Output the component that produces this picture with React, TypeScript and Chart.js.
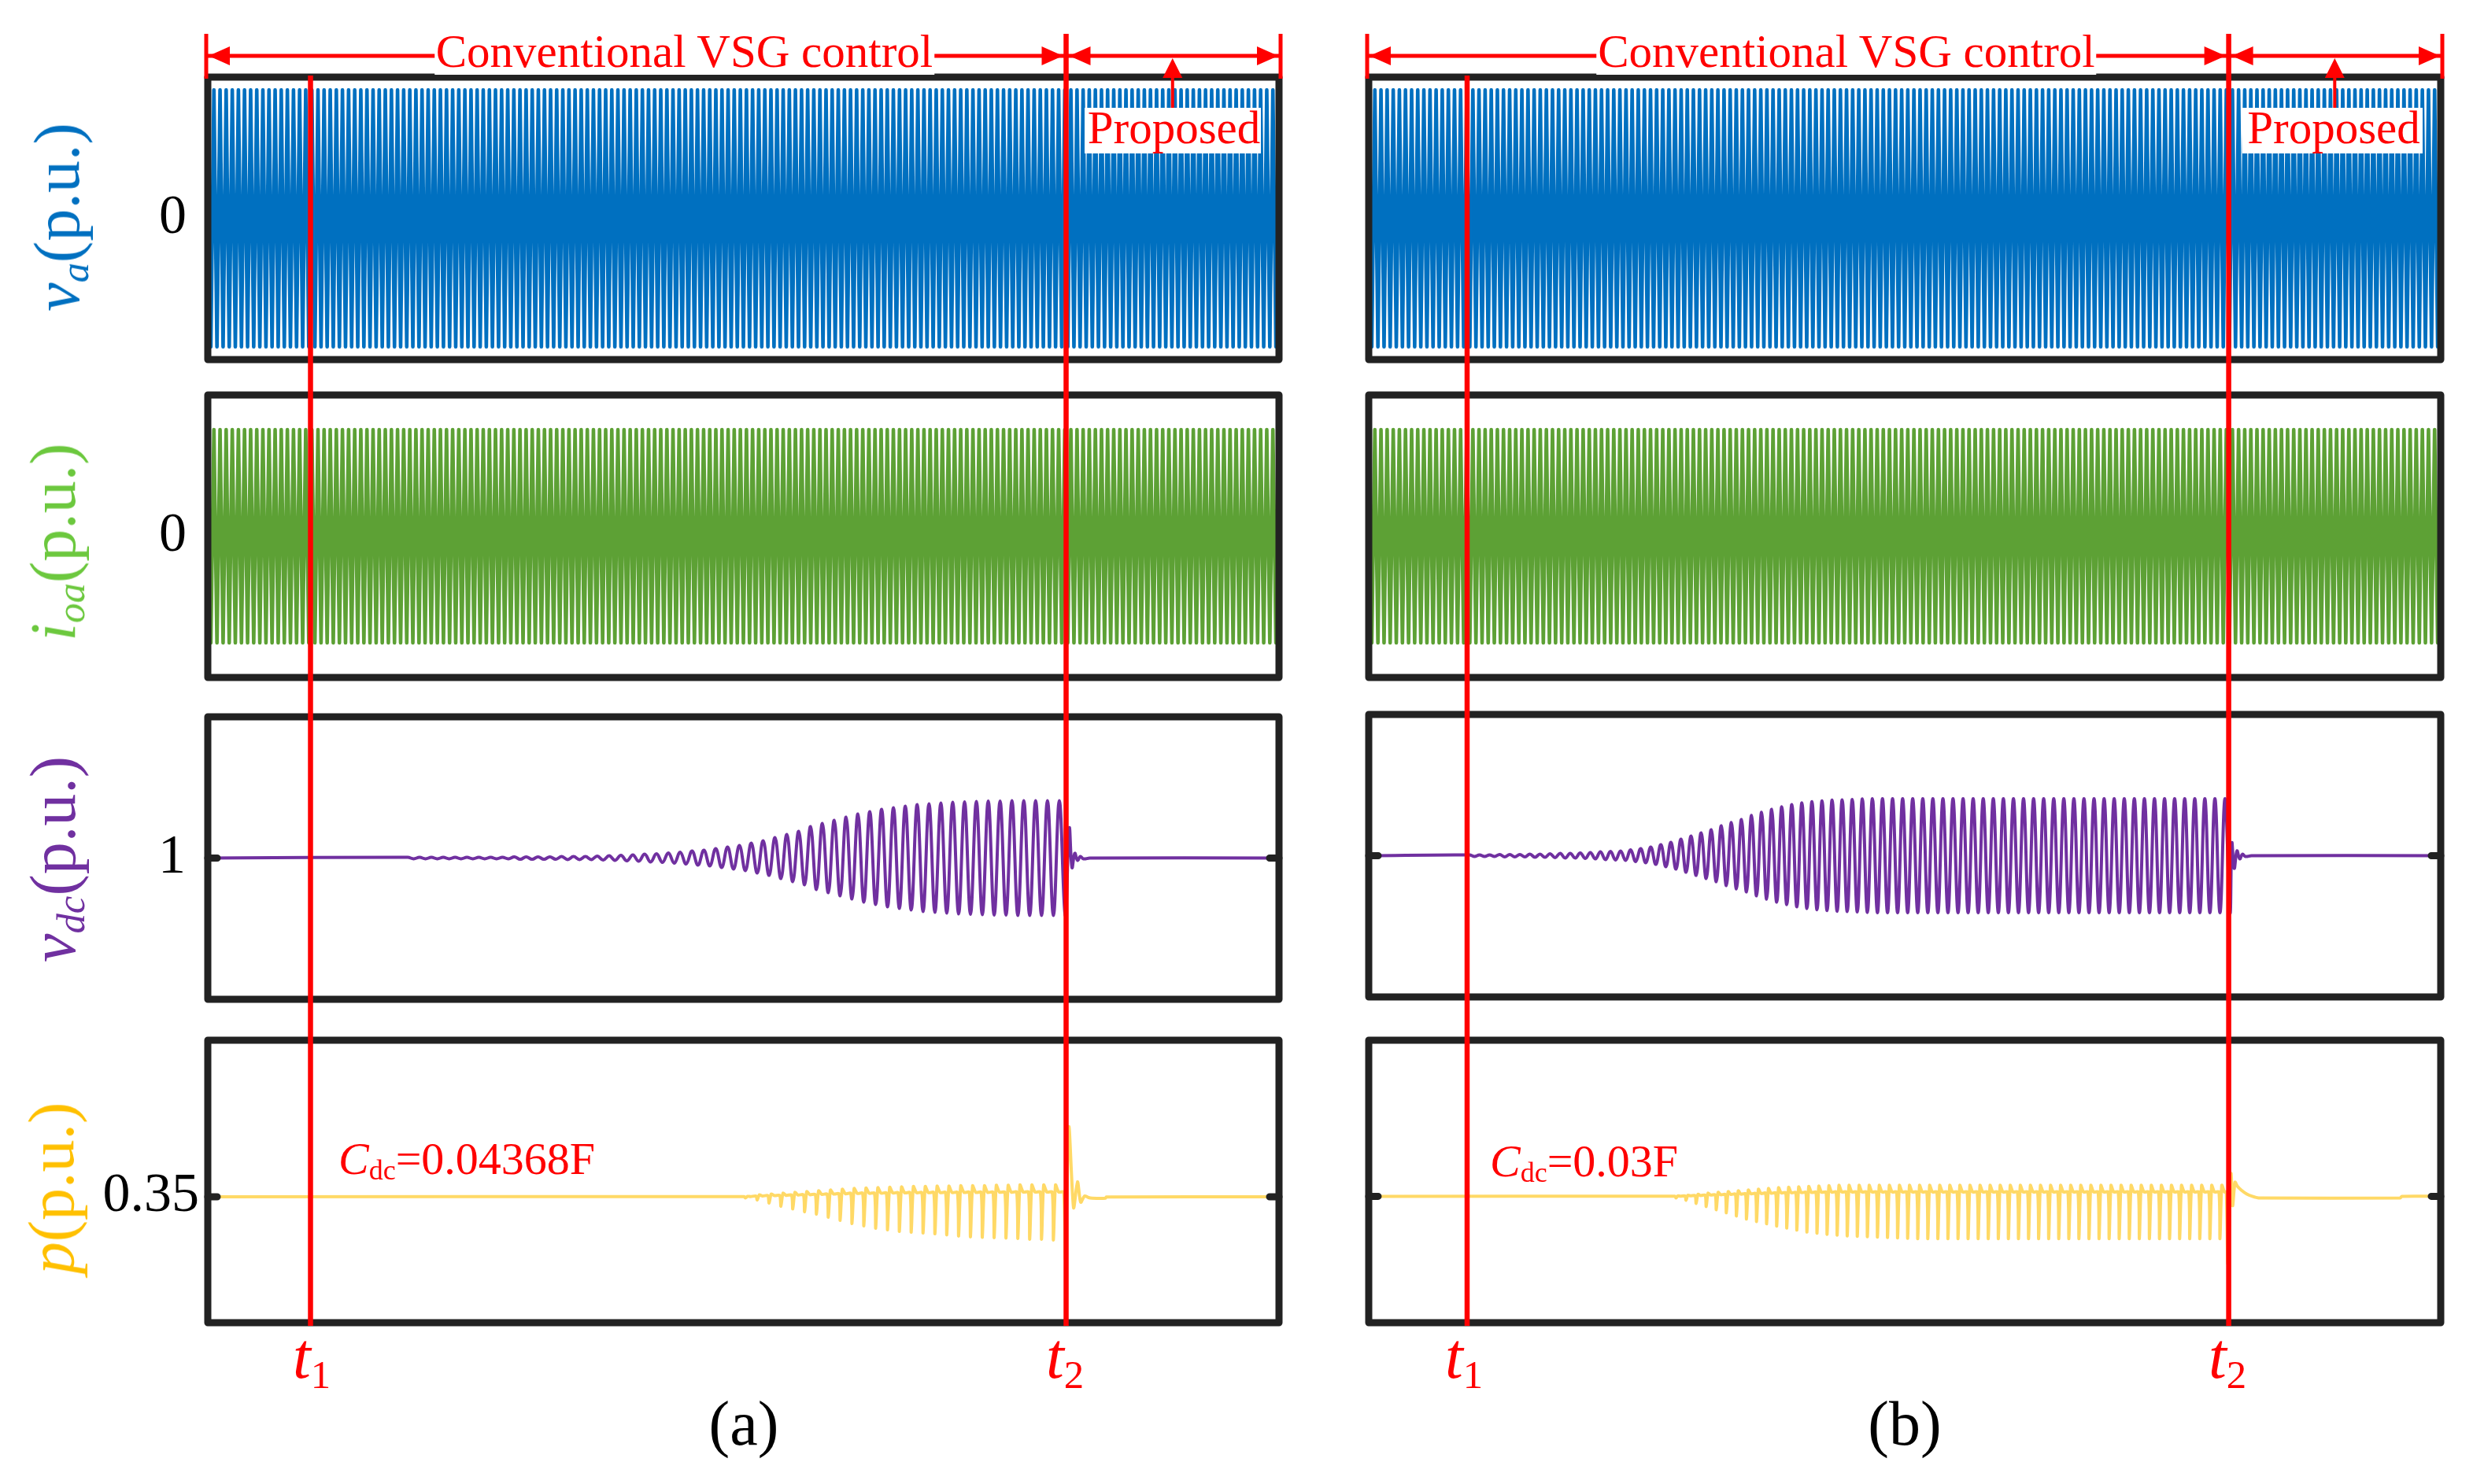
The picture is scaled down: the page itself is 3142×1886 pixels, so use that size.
import React, { useEffect, useRef } from "react";
import { Chart, registerables } from "chart.js";
Chart.register(...registerables);

// ---------------- data ----------------
const TIME_RANGE = [0, 3.5]; // s, shown span of every panel
const T_MARKS_A = [0.3356, 2.8044]; // t1, t2 in (a)
const T_MARKS_B = [0.3212, 2.8077]; // t1, t2 in (b)

const AC_HALF_PERIOD = 0.01; // s (50 Hz)
const VA_PEAK = 1.0;
const IOA_PEAK = 0.83;
const VDC_REF = 1;
const P_REF = 0.35;

const VA_AXIS = [-1.1, 1.1];
const IOA_AXIS = [-1.1, 1.1];
const VDC_AXIS_A = [0.8, 1.2];
const VDC_AXIS_B = [0.8, 1.2];
const P_AXIS_A = [0.1717, 0.5717];
const P_AXIS_B = [0.1711, 0.5711];

const TICK_VALUES = [0, 0, VDC_REF, P_REF];
const TICK_LABELS = ["0", "0", "1", "0.35"];

// oscillation (low-frequency) grid
const OSC_A_START = 0.6532;
const OSC_A_PERIOD = 0.03871;
const OSC_B_START = 0.3289;
const OSC_B_PERIOD = 0.03289;

// vdc peak deviation per oscillation cycle (p.u.)
const VDC_A_AMP = [
  0.0011, 0.0011, 0.0011, 0.0011, 0.0011, 0.0011, 0.0011, 0.0011, 0.0011,
  0.0017, 0.0017, 0.0017, 0.0017,
  0.0022, 0.0022, 0.0022,
  0.0028, 0.0033, 0.0039, 0.0045, 0.0056, 0.0061, 0.0072, 0.0084, 0.0100, 0.0111,
  0.0134, 0.0156, 0.0178, 0.0212, 0.0245, 0.0290, 0.0334, 0.0379, 0.0446, 0.0491,
  0.0535, 0.0580, 0.0624, 0.0658, 0.0691, 0.0713, 0.0736, 0.0758, 0.0769, 0.0780,
  0.0792, 0.0797, 0.0803, 0.0808, 0.0808, 0.0814, 0.0814, 0.0814, 0.0814, 0.0814,
];
const VDC_A_POST_T = [0.0103, 0.0193, 0.0283, 0.0373, 0.0463, 0.0566, 0.0772];
const VDC_A_POST_V = [0.0424, -0.0134, 0.0067, -0.0033, 0.0022, -0.0011, 0];

const VDC_B_AMP = [
  0.0011, 0.0011, 0.0011, 0.0017, 0.0017, 0.0017, 0.0022, 0.0022, 0.0028, 0.0033,
  0.0033, 0.0039, 0.0045, 0.0056, 0.0061, 0.0067, 0.0084, 0.0100, 0.0123, 0.0156,
  0.0190, 0.0234, 0.0279, 0.0324, 0.0368, 0.0424, 0.0469, 0.0513, 0.0569, 0.0614,
  0.0658, 0.0692, 0.0725, 0.0748, 0.0765, 0.0776, 0.0787, 0.0792, 0.0798, 0.0804,
  0.0807, 0.0807, 0.0807, 0.0807, 0.0807, 0.0807, 0.0807, 0.0807, 0.0807,
  0.0807, 0.0807, 0.0807, 0.0807, 0.0807, 0.0807, 0.0807, 0.0807, 0.0807,
  0.0807, 0.0807, 0.0807, 0.0807, 0.0807, 0.0807, 0.0807, 0.0807, 0.0807,
  0.0807, 0.0807, 0.0807, 0.0807, 0.0807, 0.0807, 0.0807, 0.0807, 0.0807,
];
const VDC_B_POST_T = [0.0103, 0.018, 0.027, 0.036, 0.045, 0.054, 0.0745];
const VDC_B_POST_V = [0.0179, -0.0179, 0.0067, -0.0045, 0.0022, -0.0011, 0];

// p: first oscillating cycle index, downward spike depth and upward bump per cycle
const P_A_FIRST_CYCLE = 28;
const P_A_SPIKE = [
  0.0017, 0.0045, 0.0089, 0.0134, 0.0173, 0.0212, 0.0245, 0.0290, 0.0334, 0.0379,
  0.0412, 0.0446, 0.0468, 0.0490, 0.0501, 0.0513, 0.0524, 0.0540, 0.0557, 0.0568,
  0.0574, 0.0579, 0.0585, 0.0591, 0.0602, 0.0602, 0.0613,
];
const P_A_BUMP = [
  0.0006, 0.0028, 0.0039, 0.0050, 0.0061, 0.0072, 0.0084, 0.0095, 0.0106, 0.0117,
  0.0123, 0.0128, 0.0134, 0.0139, 0.0145, 0.0145, 0.0150, 0.0150, 0.0156, 0.0156,
  0.0156, 0.0162, 0.0162, 0.0167, 0.0167, 0.0167, 0.0167,
];
const P_A_POST_T = [-0.0077, -0.0026, 0.009, 0.0244, 0.0373, 0.0476, 0.0604, 0.0733, 0.0849, 0.1286, 0.1312];
const P_A_POST_V = [0.0067, -0.088, 0.0992, -0.0156, 0.0212, -0.0078, 0.0011, -0.0011, -0.0019, -0.0019, -0.0003];

const P_B_FIRST_CYCLE = 20;
const P_B_SPIKE = [
  0.0022, 0.0056, 0.0100, 0.0144, 0.0189, 0.0233, 0.0278, 0.0322, 0.0356, 0.0389,
  0.0422, 0.0450, 0.0478, 0.0506, 0.0522, 0.0539, 0.0550, 0.0561, 0.0567, 0.0572,
  0.0578, 0.0583, 0.0589, 0.0594,
  0.0600, 0.0600, 0.0600, 0.0600, 0.0600, 0.0600, 0.0600, 0.0600, 0.0600, 0.0600,
  0.0600, 0.0600, 0.0600, 0.0600, 0.0600, 0.0600, 0.0600, 0.0600, 0.0600, 0.0600,
  0.0600, 0.0600, 0.0600, 0.0600, 0.0600, 0.0600, 0.0600, 0.0600, 0.0600, 0.0600,
  0.0600,
];
const P_B_BUMP = [
  0.0006, 0.0017, 0.0028, 0.0044, 0.0056, 0.0067, 0.0078, 0.0089, 0.0100, 0.0111,
  0.0122, 0.0128, 0.0133, 0.0139, 0.0144, 0.0150,
  0.0156, 0.0156, 0.0156, 0.0156, 0.0156, 0.0156, 0.0156, 0.0156, 0.0156, 0.0156,
  0.0156, 0.0156, 0.0156, 0.0156, 0.0156, 0.0156, 0.0156, 0.0156, 0.0156, 0.0156,
  0.0156, 0.0156, 0.0156, 0.0156, 0.0156, 0.0156, 0.0156, 0.0156, 0.0156, 0.0156,
  0.0156, 0.0156, 0.0156, 0.0156, 0.0156, 0.0156, 0.0156, 0.0156, 0.0156,
];
const P_B_POST_T = [-0.0077, -0.0026, 0.0077, 0.0128, 0.0206, 0.0283, 0.0411, 0.0591, 0.0771, 0.0977, 0.5602, 0.5654];
const P_B_POST_V = [0.0062, -0.0956, 0.0322, -0.0133, 0.02, 0.0144, 0.0089, 0.0033, 0, -0.0022, -0.0022, 0];

// ---------------- styles / layout ----------------
const SERIF = '"Liberation Serif", "Times New Roman", Times, serif';
const RED = "#FF0000";
const FRAME = "#222222";
const C_VA = "#0070C0";
const C_IOA = "#5DA135";
const C_IOA_LABEL = "#6CC83E";
const C_VDC = "#7030A0";
const C_P = "#FFD966";
const C_P_LABEL = "#FFC000";

const COL_A = { left: 264, right: 1625 };
const COL_B = { left: 1739, right: 3101 };
const ROWS_A = [98, 502, 911, 1322];
const ROWS_B = [98, 502, 908, 1322];
const PANEL_H = 359;
const TICK_PAD = [27, 27, 28, 11];
const AXIS_W = 240;
const PAD = 8;

type Pt = { x: number; y: number };

function acSeries(peak: number): Pt[] {
  const pts: Pt[] = [];
  const n = Math.round((TIME_RANGE[1] - TIME_RANGE[0]) / AC_HALF_PERIOD);
  for (let k = 0; k <= n; k++) pts.push({ x: TIME_RANGE[0] + k * AC_HALF_PERIOD, y: k % 2 === 0 ? peak : -peak });
  return pts;
}

function vdcSeries(start: number, period: number, amps: number[], t2: number, postT: number[], postV: number[]): Pt[] {
  const pts: Pt[] = [{ x: TIME_RANGE[0], y: VDC_REF }];
  amps.forEach((a, k) => {
    const t = start + k * period;
    pts.push({ x: t, y: VDC_REF + a });
    pts.push({ x: t + period / 2, y: VDC_REF - a });
  });
  postT.forEach((dt, i) => pts.push({ x: t2 + dt, y: VDC_REF + postV[i] }));
  pts.push({ x: TIME_RANGE[1], y: VDC_REF });
  return pts;
}

function pSeries(start: number, period: number, first: number, spikes: number[], bumps: number[], t2: number, postT: number[], postV: number[]): Pt[] {
  const pts: Pt[] = [{ x: TIME_RANGE[0], y: P_REF }];
  spikes.forEach((s, i) => {
    const t = start + (first + i) * period;
    const b = bumps[i];
    pts.push({ x: t + 0.4 * period, y: P_REF + 0.4 * b });
    pts.push({ x: t + 0.5 * period, y: P_REF - s });
    pts.push({ x: t + 0.68 * period, y: P_REF + b });
    pts.push({ x: t + 0.95 * period, y: P_REF + 0.4 * b });
  });
  postT.forEach((dt, i) => pts.push({ x: t2 + dt, y: P_REF + postV[i] }));
  pts.push({ x: TIME_RANGE[1], y: P_REF });
  return pts;
}

type PanelSpec = {
  left: number; top: number; width: number; height: number;
  color: string; lineWidth: number; tension: number;
  points: Pt[]; axis: number[];
  tickValue: number; tickLabel?: string; tickPad?: number; frameTick: boolean;
};

function buildPanels(): PanelSpec[] {
  const out: PanelSpec[] = [];
  const cols = [
    { col: COL_A, rows: ROWS_A, labels: true,
      series: [
        acSeries(VA_PEAK), acSeries(IOA_PEAK),
        vdcSeries(OSC_A_START, OSC_A_PERIOD, VDC_A_AMP, T_MARKS_A[1], VDC_A_POST_T, VDC_A_POST_V),
        pSeries(OSC_A_START, OSC_A_PERIOD, P_A_FIRST_CYCLE, P_A_SPIKE, P_A_BUMP, T_MARKS_A[1], P_A_POST_T, P_A_POST_V),
      ],
      axes: [VA_AXIS, IOA_AXIS, VDC_AXIS_A, P_AXIS_A] },
    { col: COL_B, rows: ROWS_B, labels: false,
      series: [
        acSeries(VA_PEAK), acSeries(IOA_PEAK),
        vdcSeries(OSC_B_START, OSC_B_PERIOD, VDC_B_AMP, T_MARKS_B[1], VDC_B_POST_T, VDC_B_POST_V),
        pSeries(OSC_B_START, OSC_B_PERIOD, P_B_FIRST_CYCLE, P_B_SPIKE, P_B_BUMP, T_MARKS_B[1], P_B_POST_T, P_B_POST_V),
      ],
      axes: [VA_AXIS, IOA_AXIS, VDC_AXIS_B, P_AXIS_B] },
  ];
  const colors = [C_VA, C_IOA, C_VDC, C_P];
  const widths = [4.6, 4.6, 4, 4];
  const tensions = [0, 0, 0.4, 0.25];
  cols.forEach((c) => {
    for (let r = 0; r < 4; r++) {
      out.push({
        left: c.col.left, top: c.rows[r], width: c.col.right - c.col.left, height: PANEL_H,
        color: colors[r], lineWidth: widths[r], tension: tensions[r],
        points: c.series[r], axis: c.axes[r],
        tickValue: TICK_VALUES[r], tickLabel: c.labels ? TICK_LABELS[r] : undefined,
        tickPad: TICK_PAD[r], frameTick: r >= 2,
      });
    }
  });
  return out;
}
const PANELS = buildPanels();

// draws the frame, the inner tick marks and the y tick label of a panel
const framePlugin = {
  id: "frame",
  afterDraw(chart: any, _args: any, opts: any) {
    const { ctx, chartArea: a } = chart;
    const y = chart.scales.y.getPixelForValue(opts.tick);
    ctx.save();
    ctx.strokeStyle = FRAME;
    if (opts.innerTick) {
      ctx.lineWidth = 9;
      ctx.lineCap = "round";
      ctx.beginPath();
      ctx.moveTo(a.left, y); ctx.lineTo(a.left + 12, y);
      ctx.moveTo(a.right, y); ctx.lineTo(a.right - 12, y);
      ctx.stroke();
    }
    ctx.lineWidth = 9;
    ctx.lineCap = "butt";
    ctx.lineJoin = "round";
    ctx.strokeRect(a.left, a.top, a.right - a.left, a.bottom - a.top);
    if (opts.label) {
      ctx.fillStyle = "#000";
      ctx.font = `70px ${SERIF}`;
      ctx.textAlign = "right";
      ctx.textBaseline = "middle";
      ctx.fillText(opts.label, a.left - opts.pad, y);
    }
    ctx.restore();
  },
};

function Panel({ spec }: { spec: PanelSpec }) {
  const ref = useRef<HTMLCanvasElement>(null);
  const axisW = spec.tickLabel ? AXIS_W : 0;
  const cw = spec.width + axisW + 2 * PAD;
  const ch = spec.height + 2 * PAD;
  useEffect(() => {
    const chart = new Chart(ref.current as HTMLCanvasElement, {
      type: "line",
      data: {
        datasets: [{
          data: spec.points as any,
          borderColor: spec.color,
          borderWidth: spec.lineWidth,
          pointRadius: 0,
          tension: spec.tension,
          borderJoinStyle: "round",
          fill: false,
        } as any],
      },
      options: {
        animation: false,
        responsive: false,
        devicePixelRatio: 1,
        parsing: false,
        normalized: true,
        events: [],
        layout: { padding: { left: PAD + axisW, right: PAD, top: PAD, bottom: PAD } },
        plugins: {
          legend: { display: false }, tooltip: { enabled: false },
          frame: { tick: spec.tickValue, innerTick: spec.frameTick, label: spec.tickLabel, pad: spec.tickPad },
        } as any,
        scales: {
          x: { type: "linear", min: TIME_RANGE[0], max: TIME_RANGE[1], display: false },
          y: { type: "linear", min: spec.axis[0], max: spec.axis[1], display: false },
        },
      },
      plugins: [framePlugin],
    });
    return () => chart.destroy();
  }, []);
  return (
    <canvas ref={ref} width={cw} height={ch}
      style={{ position: "absolute", left: spec.left - axisW - PAD, top: spec.top - PAD, width: cw, height: ch }} />
  );
}

function arrowHead(ctx: CanvasRenderingContext2D, tx: number, ty: number, dx: number, dy: number, len: number, half: number) {
  const bx = tx - dx * len, by = ty - dy * len;
  const px = -dy, py = dx;
  ctx.beginPath();
  ctx.moveTo(tx, ty);
  ctx.lineTo(bx + px * half, by + py * half);
  ctx.lineTo(bx - px * half, by - py * half);
  ctx.closePath();
  ctx.fill();
}

const markerPlugin = {
  id: "markers",
  afterDraw(chart: any, _a: any, opts: any) {
    const { ctx } = chart;
    const xs = chart.scales.x;
    const X = (v: number) => xs.getPixelForValue(v);
    const [t1, t2] = opts.marks;
    const x0 = X(TIME_RANGE[0]), xe = X(TIME_RANGE[1]), x1 = X(t1), x2 = X(t2);
    const xm = X((t2 + TIME_RANGE[1]) / 2);
    const yA = 71;
    ctx.save();
    ctx.strokeStyle = RED;
    ctx.fillStyle = RED;
    ctx.lineCap = "butt";
    ctx.lineWidth = 6.5;
    ctx.beginPath();
    ctx.moveTo(x1, 96); ctx.lineTo(x1, 1685);
    ctx.moveTo(x2, 43); ctx.lineTo(x2, 1685);
    ctx.stroke();
    ctx.lineWidth = 5;
    ctx.beginPath();
    ctx.moveTo(x0 - 2, 43); ctx.lineTo(x0 - 2, 100);
    ctx.moveTo(xe + 2, 43); ctx.lineTo(xe + 2, 100);
    ctx.stroke();
    ctx.beginPath();
    ctx.moveTo(x0, yA); ctx.lineTo(xe, yA);
    ctx.stroke();
    arrowHead(ctx, x0 + 1, yA, -1, 0, 27, 12);
    arrowHead(ctx, x2 - 4, yA, 1, 0, 27, 12);
    arrowHead(ctx, x2 + 4, yA, -1, 0, 27, 12);
    arrowHead(ctx, xe - 1, yA, 1, 0, 27, 12);
    ctx.lineWidth = 4;
    ctx.beginPath();
    ctx.moveTo(xm, 140); ctx.lineTo(xm, 95);
    ctx.stroke();
    arrowHead(ctx, xm, yA + 3, 0, -1, 25, 12.5);
    ctx.restore();
  },
};

function Overlay({ col, marks }: { col: { left: number; right: number }; marks: number[] }) {
  const ref = useRef<HTMLCanvasElement>(null);
  const ext = 80;
  const cw = col.right - col.left + 2 * ext;
  const ch = 1886;
  useEffect(() => {
    const chart = new Chart(ref.current as HTMLCanvasElement, {
      type: "line",
      data: { datasets: [] },
      options: {
        animation: false,
        responsive: false,
        devicePixelRatio: 1,
        events: [],
        layout: { padding: { left: ext, right: ext, top: 0, bottom: 0 } },
        plugins: { legend: { display: false }, tooltip: { enabled: false }, markers: { marks } } as any,
        scales: {
          x: { type: "linear", min: TIME_RANGE[0], max: TIME_RANGE[1], display: false },
          y: { type: "linear", min: 0, max: 1, display: false },
        },
      },
      plugins: [markerPlugin],
    });
    return () => chart.destroy();
  }, []);
  return (
    <canvas ref={ref} width={cw} height={ch}
      style={{ position: "absolute", left: col.left - ext, top: 0, width: cw, height: ch, pointerEvents: "none" }} />
  );
}

function Txt(props: { x: number; base: number; size: number; align?: string; color?: string; bg?: string; pad?: string; children: any }) {
  const { x, base, size, align = "left", color = "#000", bg, pad, children } = props;
  const tx = align === "center" ? "-50%" : align === "right" ? "-100%" : "0";
  return (
    <div style={{
      position: "absolute", left: x, top: base - 0.8375 * size, fontFamily: SERIF, fontSize: size,
      lineHeight: `${size}px`, color, whiteSpace: "nowrap", transform: `translateX(${tx})`,
      background: bg, padding: pad,
    }}>{children}</div>
  );
}

function Sub({ children, italic, drop = 0.24 }: { children: any; italic?: boolean; drop?: number }) {
  return (
    <span style={{ fontSize: "0.62em", position: "relative", top: `${drop}em`, lineHeight: 0, fontStyle: italic ? "italic" : "normal" }}>
      {children}
    </span>
  );
}

function VTitle({ cx, cy, color, children }: { cx: number; cy: number; color: string; children: any }) {
  return (
    <div style={{
      position: "absolute", left: cx, top: cy, transform: "translate(-50%,-50%) rotate(-90deg)",
      fontFamily: SERIF, fontSize: 82, lineHeight: "82px", color, whiteSpace: "nowrap",
    }}>{children}</div>
  );
}

export default function App() {
  useEffect(() => {
    document.body.style.margin = "0";
    document.documentElement.style.overflow = "hidden";
  }, []);
  return (
    <div style={{ position: "absolute", left: 0, top: 0, width: 3142, height: 1886, background: "#fff", overflow: "hidden" }}>
      {PANELS.map((p, i) => <Panel key={i} spec={p} />)}
      <Overlay col={COL_A} marks={T_MARKS_A} />
      <Overlay col={COL_B} marks={T_MARKS_B} />

      <Txt x={869.5} base={85} size={59} align="center" color={RED} bg="#fff" pad="0 2px">Conventional VSG control</Txt>
      <Txt x={2346} base={85} size={59} align="center" color={RED} bg="#fff" pad="0 2px">Conventional VSG control</Txt>

      <div style={{ position: "absolute", left: 1378, top: 137, width: 224, height: 58, background: "#fff" }} />
      <div style={{ position: "absolute", left: 2849, top: 137, width: 229, height: 58, background: "#fff" }} />
      <Txt x={1491.5} base={182} size={59} align="center" color={RED}>Proposed</Txt>
      <Txt x={2965} base={182} size={59} align="center" color={RED}>Proposed</Txt>

      <Txt x={430} base={1493} size={58} color={RED}><i>C</i><Sub drop={0.17}>dc</Sub>=0.04368F</Txt>
      <Txt x={1893} base={1496} size={58} color={RED}><i>C</i><Sub drop={0.17}>dc</Sub>=0.03F</Txt>

      <VTitle cx={72.5} cy={276} color={C_VA}><i>v</i><Sub italic>a</Sub>(p.u.)</VTitle>
      <VTitle cx={67.5} cy={689} color={C_IOA_LABEL}><i>i</i><Sub italic>oa</Sub>(p.u.)</VTitle>
      <VTitle cx={67.5} cy={1092} color={C_VDC}><i>v</i><Sub italic>dc</Sub>(p.u.)</VTitle>
      <VTitle cx={65.5} cy={1510} color={C_P_LABEL}><i>p</i>(p.u.)</VTitle>

      <Txt x={372} base={1752} size={82} color={RED}><i>t</i><Sub>1</Sub></Txt>
      <Txt x={1329} base={1752} size={82} color={RED}><i>t</i><Sub>2</Sub></Txt>
      <Txt x={1836} base={1752} size={82} color={RED}><i>t</i><Sub>1</Sub></Txt>
      <Txt x={2806} base={1752} size={82} color={RED}><i>t</i><Sub>2</Sub></Txt>

      <Txt x={945} base={1836} size={80} align="center">(a)</Txt>
      <Txt x={2420} base={1836} size={80} align="center">(b)</Txt>
    </div>
  );
}
